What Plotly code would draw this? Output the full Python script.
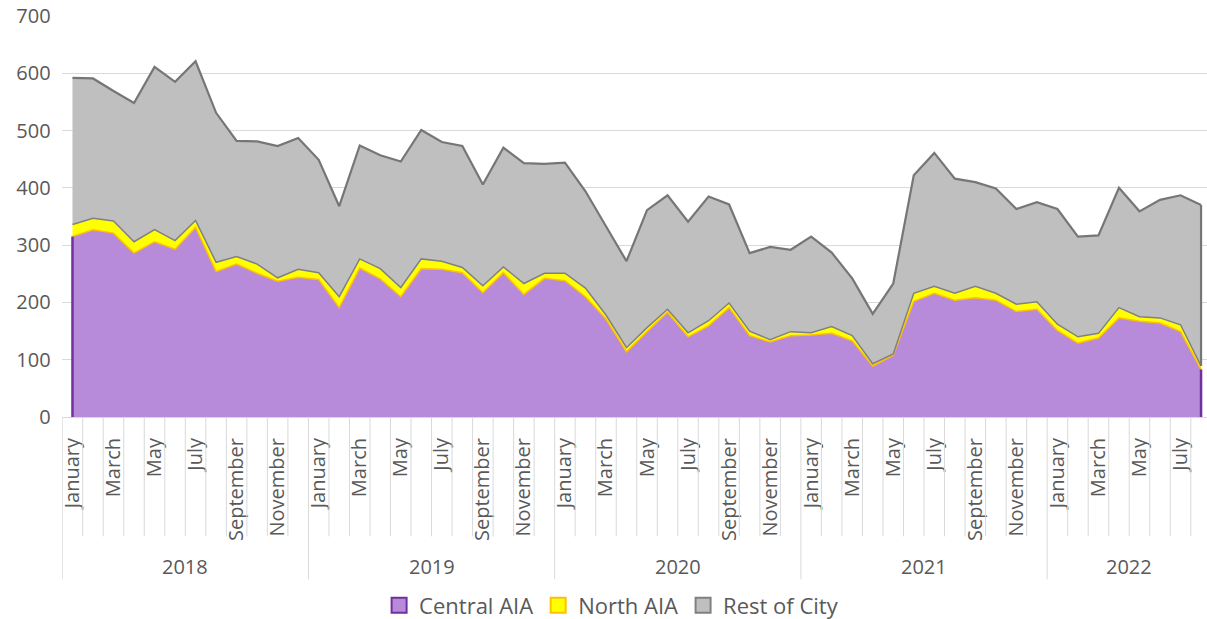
import plotly.graph_objects as go

# ---- data ----
years = [2018, 2019, 2020, 2021, 2022]
month_names = ["January", "February", "March", "April", "May", "June", "July",
               "August", "September", "October", "November", "December"]
months_in_year = [12, 12, 12, 12, 8]

central = [315, 327, 321, 286, 306, 293, 331, 254, 267, 251, 237, 244,
           240, 191, 260, 241, 210, 259, 258, 252, 217, 252, 214, 242,
           238, 210, 171, 114, 149, 183, 140, 159, 191, 142, 131, 142,
           143, 146, 133, 89, 108, 202, 216, 204, 208, 204, 184, 188,
           151, 129, 138, 173, 167, 164, 149, 83]
north = [21, 20, 21, 20, 21, 15, 12, 16, 13, 16, 6, 14,
         12, 19, 16, 18, 16, 17, 14, 9, 12, 10, 19, 9,
         13, 15, 7, 7, 7, 5, 7, 9, 8, 8, 4, 7,
         4, 12, 9, 4, 2, 14, 12, 12, 20, 12, 13, 13,
         11, 11, 8, 18, 8, 9, 12, 6]
rest = [256, 244, 227, 242, 284, 277, 278, 261, 202, 214, 230, 229,
        197, 158, 198, 198, 220, 225, 208, 212, 177, 208, 210, 191,
        193, 169, 155, 151, 205, 199, 194, 217, 172, 136, 162, 143,
        168, 129, 100, 87, 123, 206, 233, 200, 182, 183, 166, 174,
        201, 175, 171, 209, 184, 206, 226, 281]

series_names = ["Central AIA", "North AIA", "Rest of City"]
fill_colors = ["#B78BD9", "#FFFF00", "#BFBFBF"]
legend_borders = ["#7030A0", "#FFC000", "#808080"]

# ---- derived ----
month_labels = []
year_of = []
for y, n in zip(years, months_in_year):
    for m in range(n):
        month_labels.append(month_names[m])
        year_of.append(y)
idx = list(range(len(central)))
cn = [a + b for a, b in zip(central, north)]
total = [a + b for a, b in zip(cn, rest)]

TXT = "#595959"
GRID = "#D9D9D9"
FONT = "Open Sans"

fig = go.Figure()
line_cfg = [dict(color="#FFC000", width=1.5), dict(color="#808080", width=1.5),
            dict(color="#767676", width=2.2)]
for name, vals, fc, lc in zip(series_names, [central, north, rest], fill_colors, line_cfg):
    fig.add_trace(go.Scatter(x=idx, y=vals, name=name, stackgroup="s", mode="lines",
                             line=lc, fillcolor=fc, showlegend=False))
# area edge borders
fig.add_trace(go.Scatter(x=[idx[0], idx[0]], y=[0, central[0]], mode="lines",
                         line=dict(color="#7030A0", width=2.5), showlegend=False,
                         hoverinfo="skip"))
fig.add_trace(go.Scatter(x=[idx[-1], idx[-1]], y=[0, central[-1]], mode="lines",
                         line=dict(color="#7030A0", width=2.5), showlegend=False,
                         hoverinfo="skip"))
fig.add_trace(go.Scatter(x=[idx[-1], idx[-1]], y=[cn[-1], total[-1]], mode="lines",
                         line=dict(color="#767676", width=2.2), showlegend=False,
                         hoverinfo="skip"))
# legend swatches
for name, fc, bc in zip(series_names, fill_colors, legend_borders):
    fig.add_trace(go.Scatter(x=[None], y=[None], mode="markers", name=name,
                             marker=dict(symbol="square", size=15, color=fc,
                                         line=dict(color=bc, width=2))))

shapes = []
annotations = []
for i in range(len(idx)):
    b = i - 0.5
    is_year = (i == 0) or (year_of[i] != year_of[i - 1])
    shapes.append(dict(type="line", xref="x", yref="paper", x0=b, x1=b,
                       y0=0, y1=-0.405 if is_year else -0.2975,
                       line=dict(color=GRID, width=1)))
start = 0
for y, n in zip(years, months_in_year):
    annotations.append(dict(x=start + (n - 1) / 2, y=-0.3725, xref="x", yref="paper",
                            yanchor="middle", xanchor="center",
                            text=str(y), showarrow=False,
                            font=dict(family=FONT, size=20, color=TXT)))
    start += n

fig.update_layout(
    width=1207, height=627,
    margin=dict(l=62, r=0, t=16, b=206),
    paper_bgcolor="white", plot_bgcolor="white",
    font=dict(family=FONT, color=TXT, size=20),
    showlegend=True,
    legend=dict(orientation="h", x=0.48, xanchor="center", y=-0.47, yanchor="middle",
                font=dict(family=FONT, size=22, color=TXT), traceorder="normal",
                itemwidth=30),
    shapes=shapes, annotations=annotations,
    xaxis=dict(range=[-0.51, 55.29], tickvals=idx[::2], ticktext=month_labels[::2],
               tickangle=-90, tickfont=dict(family=FONT, size=20, color=TXT),
               showgrid=False, zeroline=False, showline=True, linecolor=GRID,
               ticks="outside", ticklen=12, tickcolor="rgba(0,0,0,0)",
               automargin=False),
    yaxis=dict(range=[0, 700], dtick=100, showgrid=True, gridcolor=GRID, gridwidth=1,
               zeroline=False, showline=False, automargin=False,
               ticklabeloverflow="allow",
               tickfont=dict(family=FONT, size=20, color=TXT), ticksuffix="  "),
)

fig.write_html("out.html", config={"displayModeBar": False},
               post_script="document.body.style.margin='0';document.body.style.overflow='hidden';")
